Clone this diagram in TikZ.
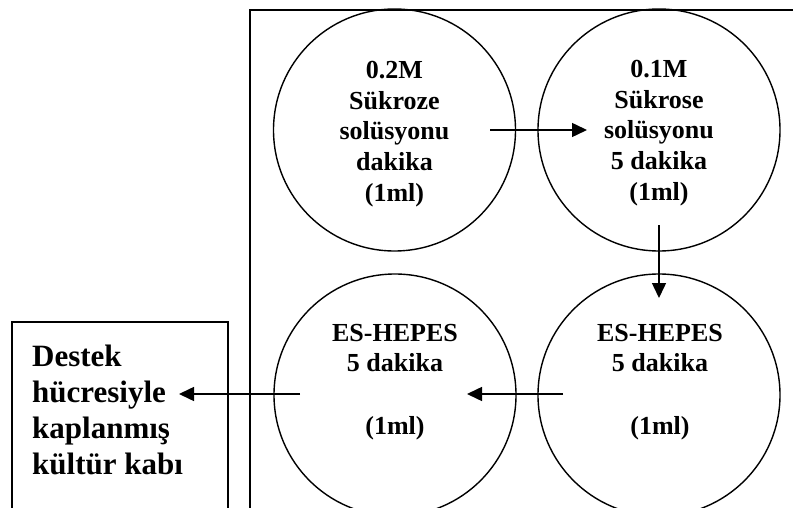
\documentclass[tikz,border=0pt]{standalone}
\usepackage{fontspec}
\setmainfont{Liberation Serif}
\usetikzlibrary{arrows.meta}
\tikzset{
  ring/.style={circle, draw, line width=1.4pt, minimum size=242pt, inner sep=0pt},
  ctext/.style={align=center, inner sep=0pt, font=\bfseries\fontsize{26}{30.8}\selectfont},
  btext/.style={align=left, inner sep=0pt, font=\bfseries\fontsize{31}{36}\selectfont},
  flow/.style={line width=1.5pt, -{Triangle[length=15pt,width=14pt]}},
  frame/.style={line width=1.6pt}
}
\begin{document}
\begin{tikzpicture}[x=1pt,y=-1pt]
\clip (0,0) rectangle (793,508);
\useasboundingbox (0,0) rectangle (793,508);
% frames
\draw[frame] (250,530) -- (250,10) -- (810,10);
\draw[frame] (12,530) -- (12,322) -- (228,322) -- (228,530);
% circles
\node[ring] (c1) at (394.5,130) {};
\node[ring] (c2) at (659,130) {};
\node[ring] (c3) at (395,395) {};
\node[ring] (c4) at (659,395) {};
% texts
\node[ctext] (t1) at (394.5,134) {0.2M\\Sükroze\\solüsyonu\\dakika\\(1ml)};
\node[ctext] (t2) at (659,133) {0.1M\\Sükrose\\solüsyonu\\5 dakika\\(1ml)};
\node[ctext] (t3) at (395,382) {ES-HEPES\\5 dakika\\[32pt](1ml)};
\node[ctext] (t4) at (660,382) {ES-HEPES\\5 dakika\\[32pt](1ml)};
\node[btext, anchor=west] (box) at (32,410) {Destek\\hücresiyle\\kaplanmış\\kültür kabı};
% connector ends
\coordinate (a1s) at (490,130);
\coordinate (a1e) at (587,130);
\coordinate (a2s) at (659,225);
\coordinate (a2e) at (659,298);
\coordinate (a3s) at (563,394);
\coordinate (a3e) at (467,394);
\coordinate (a4s) at (300,394);
\coordinate (a4e) at (179,394);
\draw[flow] (a1s) -- (a1e);
\draw[flow] (a2s) -- (a2e);
\draw[flow] (a3s) -- (a3e);
\draw[flow] (a4s) -- (a4e);
\end{tikzpicture}
\end{document}
